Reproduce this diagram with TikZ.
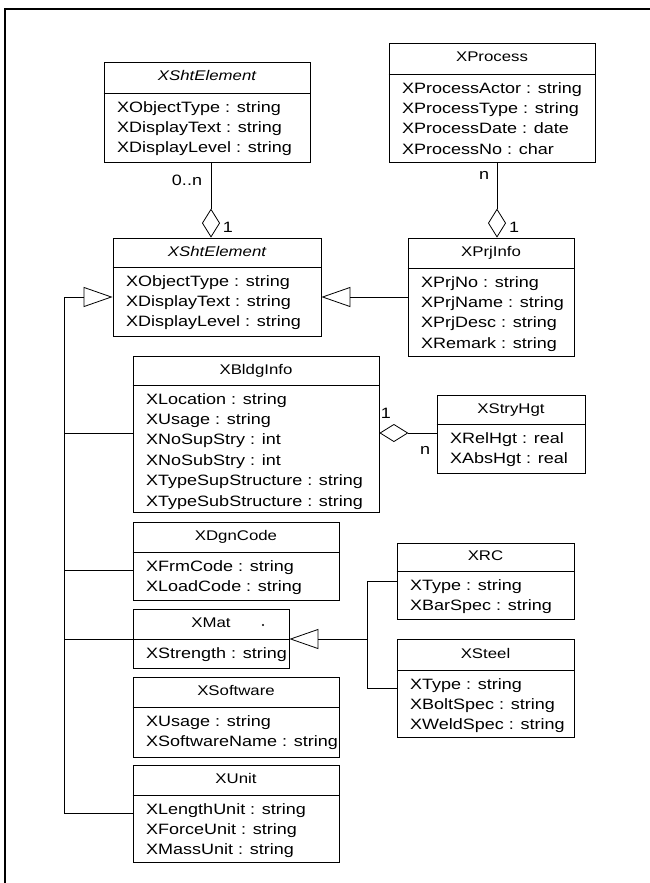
\documentclass[tikz,border=0pt]{standalone}
\usepackage{fontspec}
\setmainfont{Liberation Sans}[FakeStretch=1.2]
\usetikzlibrary{arrows.meta}

\tikzset{
  classbox/.style={draw, line width=0.8pt, inner sep=0pt},
  sepline/.style={line width=0.8pt},
  umlfont/.style={font=\fontsize{15}{18}\selectfont},
  titletext/.style={font=\fontsize{14}{17}\selectfont, inner sep=0pt, text height=10pt, text depth=3pt},
  attrtext/.style={umlfont, inner sep=0pt, anchor=west, text height=11pt, text depth=3pt},
  mult/.style={umlfont, inner sep=0pt},
  conn/.style={line width=0.8pt},
  aggr/.style={conn, -{Diamond[open, length=29pt, width=18pt, line width=0.8pt]}},
  inherit/.style={conn, -{Triangle[open, length=29pt, width=20pt, line width=0.8pt]}},
  frameline/.style={line width=1.2pt}
}

% class box: name, left, top, right, separator, bottom, title, attribute list
\newcommand\umlclass[8]{%
  \pgfmathsetmacro\ucw{#4-#2}%
  \pgfmathsetmacro\uch{#6-#3}%
  \node[classbox, minimum width=\ucw pt, minimum height=\uch pt] (#1) at ({(#2+#4)/2},{(#3+#6)/2}) {};
  \draw[sepline] (#1.west |- 0,#5) -- (#1.east |- 0,#5);
  \node[titletext] (#1-title) at ({(#2+#4)/2},{(#3+#5)/2}) {#7};
  \foreach \attr [count=\k] in {#8}{
    \node[attrtext] (#1-a\k) at ({#2+13},{#5+15+(\k-1)*20.4}) {\attr};
  }%
}

\begin{document}
\begin{tikzpicture}[x=1pt, y=-1pt]
\useasboundingbox (0,0) rectangle (650,883);

% page frame
\draw[frameline] (5,883) -- (5,9) -- (650,9);

% classes
\umlclass{sht1}{104}{62}{310}{93}{162}{\itshape XShtElement}
  {XObjectType : string, XDisplayText : string, XDisplayLevel : string}
\umlclass{proc}{389}{43}{595}{74}{162}{XProcess}
  {XProcessActor : string, XProcessType : string, XProcessDate : date, XProcessNo : char}
\umlclass{sht2}{113}{238}{321}{267}{336}{\itshape XShtElement}
  {XObjectType : string, XDisplayText : string, XDisplayLevel : string}
\umlclass{prj}{408}{238}{574}{268}{356}{XPrjInfo}
  {XPrjNo : string, XPrjName : string, XPrjDesc : string, XRemark : string}
\umlclass{bldg}{133}{356}{379}{385}{512}{XBldgInfo}
  {XLocation : string, XUsage : string, XNoSupStry : int, XNoSubStry : int, XTypeSupStructure : string, XTypeSubStructure : string}
\umlclass{stry}{437}{395}{585}{424}{473}{XStryHgt}
  {XRelHgt : real, XAbsHgt : real}
\umlclass{dgn}{133}{522}{339}{552}{600}{XDgnCode}
  {XFrmCode : string, XLoadCode : string}
\umlclass{rc}{397}{543}{574}{571}{619}{XRC}
  {XType : string, XBarSpec : string}
\umlclass{mat}{133}{609}{289}{639}{668}{XMat}
  {XStrength : string}
\umlclass{steel}{397}{639}{574}{670}{737}{XSteel}
  {XType : string, XBoltSpec : string, XWeldSpec : string}
\umlclass{soft}{133}{677}{339}{707}{757}{XSoftware}
  {XUsage : string, XSoftwareName : string}
\umlclass{unit}{133}{765}{339}{795}{862}{XUnit}
  {XLengthUnit : string, XForceUnit : string, XMassUnit : string}

% stray mark in the XMat title row
\fill (263,625) circle (1.2pt);

% routing coordinates
\coordinate (xa) at (211,0);
\coordinate (xb) at (497,0);
\coordinate (xbus) at (64,0);
\coordinate (xm) at (367,0);
\coordinate (yg) at (0,297);

% aggregations
\draw[aggr] (sht1.south -| xa) -- (sht2.north -| xa);
\node[mult] (mA) at (187,180) {0..n};
\node[mult] (oneA) at (228,227) {1};

\draw[aggr] (proc.south -| xb) -- (prj.north -| xb);
\node[mult] (mB) at (484,175) {n};
\node[mult] (oneB) at (514,227) {1};

\draw[aggr] (stry.west |- 0,433) -- (bldg.east |- 0,433);
\node[mult] (oneS) at (386,413) {1};
\node[mult] (mS) at (425,450) {n};

% generalizations
\draw[inherit] (prj.west |- yg) -- (sht2.east |- yg);

\draw[inherit] (unit.west |- 0,813) -- (xbus |- 0,813) -- (xbus |- yg) -- (sht2.west |- yg);
\draw[conn] (bldg.west |- 0,433) -- (xbus |- 0,433);
\draw[conn] (dgn.west |- 0,570) -- (xbus |- 0,570);
\draw[conn] (mat.west |- 0,639) -- (xbus |- 0,639);

\draw[conn] (rc.west |- 0,581) -- (xm |- 0,581) -- (xm |- 0,688) -- (steel.west |- 0,688);
\draw[inherit] (xm |- 0,639) -- (mat.east |- 0,639);
\end{tikzpicture}
\end{document}
